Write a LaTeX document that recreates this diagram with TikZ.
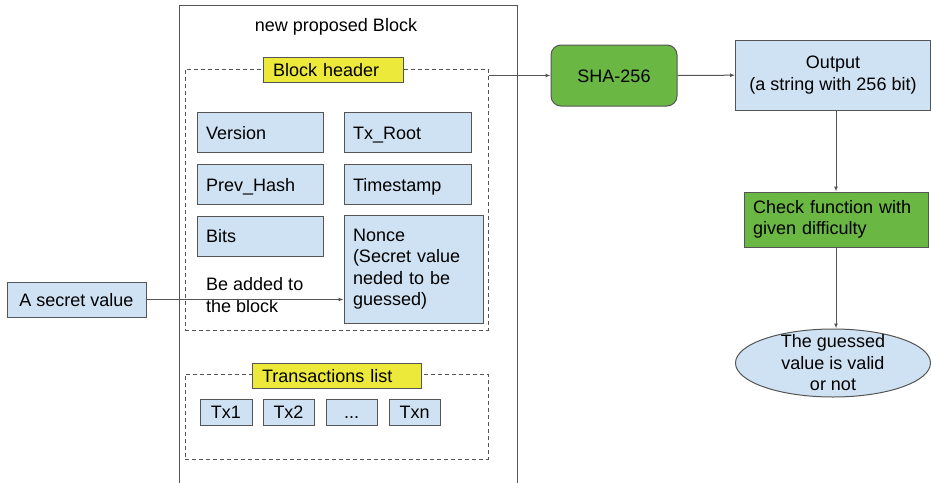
\documentclass[tikz,border=0pt]{standalone}
\usepackage{fontspec}
\setmainfont{Liberation Sans}
\usetikzlibrary{arrows.meta,shapes.geometric}
\definecolor{lightblue}{RGB}{207,226,243}
\definecolor{hashgreen}{RGB}{106,184,67}
\definecolor{tagyellow}{RGB}{236,233,58}
\definecolor{linegray}{RGB}{85,85,85}

\begin{document}
\begin{tikzpicture}[x=1pt, y=-1pt,
        every node/.style = {font=\fontsize{18}{21.5}\selectfont, text=black},
        field/.style = {draw=linegray, fill=lightblue, line width=1pt,
                        inner xsep=9pt, inner ysep=0pt, align=left},
        oneline/.style = {text height=13pt, text depth=0pt},
        txbox/.style = {draw=linegray, fill=lightblue, line width=1pt, oneline,
                        minimum width=51pt, minimum height=26pt, inner sep=0pt},
        tag/.style = {draw=linegray, fill=tagyellow, line width=1pt,
                      inner xsep=10pt, inner ysep=0pt, minimum height=25pt, align=left},
        region/.style = {draw=linegray, dash pattern=on 4pt off 3pt, line width=1pt},
        greenbox/.style = {draw=linegray, fill=hashgreen, line width=1pt, inner ysep=0pt},
        link/.style = {draw=linegray, line width=1pt, -{Latex[length=5pt,width=4pt]}}]
    \useasboundingbox (0,0) rectangle (931,482);

    % the block
    \draw[linegray, line width=1pt] (179,490) -- (179,5) -- (517,5) -- (517,490);
    \node (title) at (336,27) {new proposed Block};

    % header
    \node[region, minimum width=303pt, minimum height=261pt] (header) at (336.5,199.5) {};
    \node[tag, oneline, text width=120pt] (headertag) at (333,69.5) {Block header};
    \node[field, oneline, text width=108pt, minimum height=40pt] (version) at (260,132.5) {Version};
    \node[field, oneline, text width=109pt, minimum height=40pt] (txroot) at (407.5,132.5) {Tx\_Root};
    \node[field, oneline, text width=108pt, minimum height=40pt] (prevhash) at (260,184.5) {Prev\_Hash};
    \node[field, oneline, text width=109pt, minimum height=40pt] (timestamp) at (407.5,184.5) {Timestamp};
    \node[field, oneline, text width=108pt, minimum height=40pt] (bits) at (260,236) {Bits};
    \node[field, text width=121pt, minimum height=108pt] (nonce) at (413.5,269)
        {Nonce\\(Secret value\\neded to be\\guessed)};
    \node[anchor=west, inner sep=0pt, align=left] (addnote) at (206,295) {Be added to\\the block};

    % transactions
    \node[region, minimum width=303pt, minimum height=85pt] (txlist) at (336.5,416.5) {};
    \node[tag, oneline, text width=149pt] (txtag) at (336.5,375.5) {Transactions list};
    \node[txbox, minimum width=52pt] (tx1) at (226,412) {Tx1};
    \node[txbox] (tx2) at (288.5,412) {Tx2};
    \node[txbox] (txdots) at (351.5,412) {...};
    \node[txbox] (txn) at (414.5,412) {Txn};

    \node[field, oneline, align=center, minimum width=139pt, minimum height=35pt] (secret) at (76.5,299.5)
        {A secret value};

    % hashing and check
    \node[greenbox, oneline, rounded corners=10pt, minimum width=126pt, minimum height=61pt] (sha) at (614,75.5)
        {SHA-256};
    \node[field, align=center, minimum width=195pt, minimum height=70pt] (output) at (833,75)
        {Output\\(a string with 256 bit)};
    \node[greenbox, inner xsep=9pt, text width=166pt, minimum height=55pt, align=left] (check) at (836,219.5)
        {Check function with\\given difficulty};
    \node[ellipse, draw=linegray, fill=lightblue, line width=1pt, minimum width=195pt, minimum height=68pt,
          inner xsep=0pt, inner ysep=-8pt, align=center] (verdict) at (833,363)
        {The guessed\\value is valid\\or not};

    \draw[link] (secret) -- (secret -| nonce.west);
    \draw[link] (sha.west -| header.east) -- (sha.west);
    \draw[link] (sha) -- (output);
    \draw[link] (output.south -| check) -- (check);
    \draw[link] (check) -- (check |- verdict.north);
\end{tikzpicture}
\end{document}
